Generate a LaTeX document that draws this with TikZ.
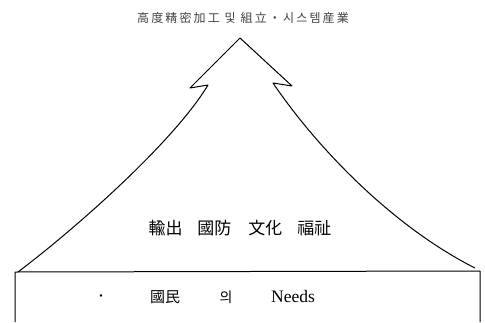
\documentclass[tikz,border=0pt]{standalone}
\usepackage{fontspec}
\newfontfamily\kr{Noto Sans CJK KR}
\setmainfont{Liberation Serif}
\begin{document}
\begin{tikzpicture}[x=1pt,y=-1pt,
  outline/.style={line width=1pt, line join=round},
  lbl/.style={inner sep=0pt, font=\kr}]
\useasboundingbox (0,0) rectangle (485,322);
% tree-like arrow shape
\draw[outline] (18,272) .. controls (80,225) and (175,140) .. (208,85)
  -- (190,88) -- (240,38) -- (292,86) -- (273,83)
  .. controls (315,145) and (390,225) .. (475,268);
% base box (open at bottom)
\draw[outline] (15,322) -- (15,272) -- (480,271) -- (480,322);
% texts
\node[lbl, font=\kr\fontsize{12}{12}\selectfont\addfontfeature{LetterSpace=18}, text=black!75] (top) at (243,18)
  {高度精密加工\ 및\ 組立・시스템産業};
\node[lbl, font=\kr\fontsize{17}{17}\selectfont] (mid) at (240,228)
  {輸出\hspace{15pt}國防\hspace{17pt}文化\hspace{15pt}福祉};
\node[lbl] (dot) at (101,298) {\fontsize{12}{12}\selectfont ・};
\node[lbl, font=\kr\fontsize{15}{15}\selectfont] (kuk) at (165,297) {國民};
\node[lbl, font=\kr\fontsize{14}{14}\selectfont] (ui) at (226,297) {의};
\node[inner sep=0pt, font=\fontsize{17.5}{17.5}\selectfont] (needs) at (293,297) {Needs};
\end{tikzpicture}
\end{document}
